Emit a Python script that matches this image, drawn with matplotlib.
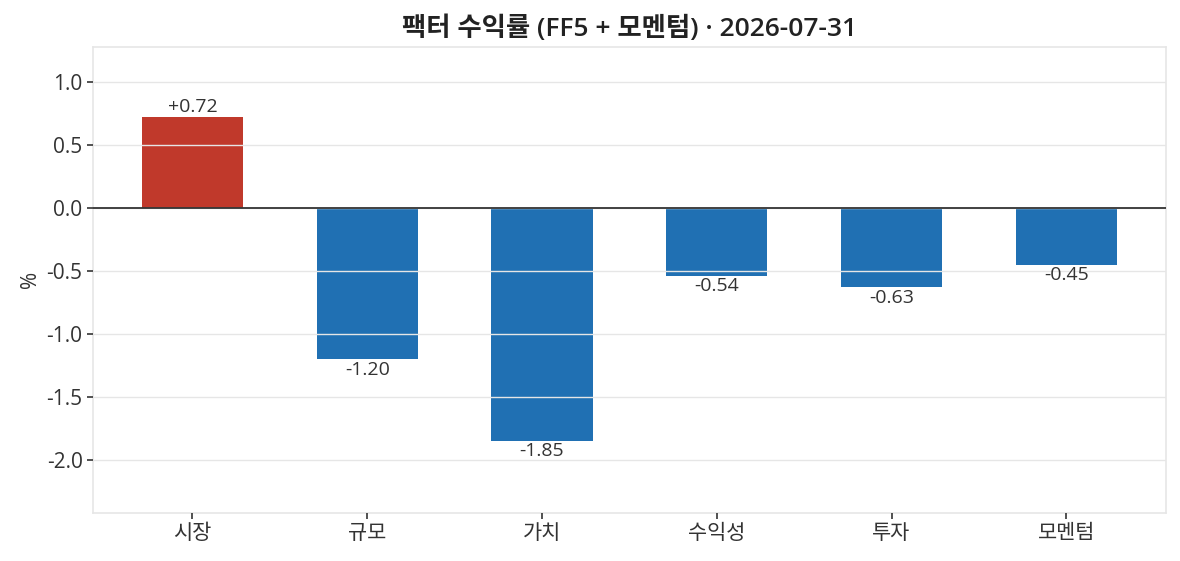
import matplotlib.pyplot as plt

plt.rcParams['font.family'] = ['Open Sans', 'Noto Sans CJK KR', 'DejaVu Sans']
plt.rcParams['axes.unicode_minus'] = False

# factor returns for the month
factors = ['시장', '규모', '가치', '수익성', '투자', '모멘텀']
returns = [0.72, -1.20, -1.85, -0.54, -0.63, -0.45]
as_of = '2026-07-31'

colors = ['#c0392b' if r > 0 else '#2070b3' for r in returns]

fig, ax = plt.subplots(figsize=(11.8, 5.61), dpi=100)
fig.subplots_adjust(left=0.0788, right=0.9879, top=0.9162, bottom=0.0861)

bars = ax.bar(factors, returns, width=0.58, color=colors, zorder=1)
ax.axhline(0, color='#333333', lw=1.3, zorder=3)

# value labels above / below each bar
for b, r in zip(bars, returns):
    x = b.get_x() + b.get_width() / 2
    if r >= 0:
        ax.annotate(f'{r:+.2f}', (x, r), xytext=(0, 1), textcoords='offset points',
                    ha='center', va='bottom', fontsize=14, color='#333333')
    else:
        ax.annotate(f'{r:.2f}', (x, r), xytext=(0, -1), textcoords='offset points',
                    ha='center', va='top', fontsize=14, color='#333333')

ax.set_ylim(-2.42, 1.28)
ax.set_yticks([-2.0, -1.5, -1.0, -0.5, 0.0, 0.5, 1.0])
ax.grid(axis='y', color='#e6e6e6', lw=1, zorder=2)
ax.set_axisbelow(False)
for s in ax.spines.values():
    s.set_color('#e6e6e6')
    s.set_linewidth(1.2)
ax.tick_params(labelsize=15, colors='#333333', length=4, width=1.2)
ax.set_ylabel('%', fontsize=15, color='#333333')
ax.set_title(f'팩터 수익률 (FF5 + 모멘텀) · {as_of}', fontsize=19,
             fontweight='semibold', color='#222222', pad=8)

plt.savefig('out.png')
